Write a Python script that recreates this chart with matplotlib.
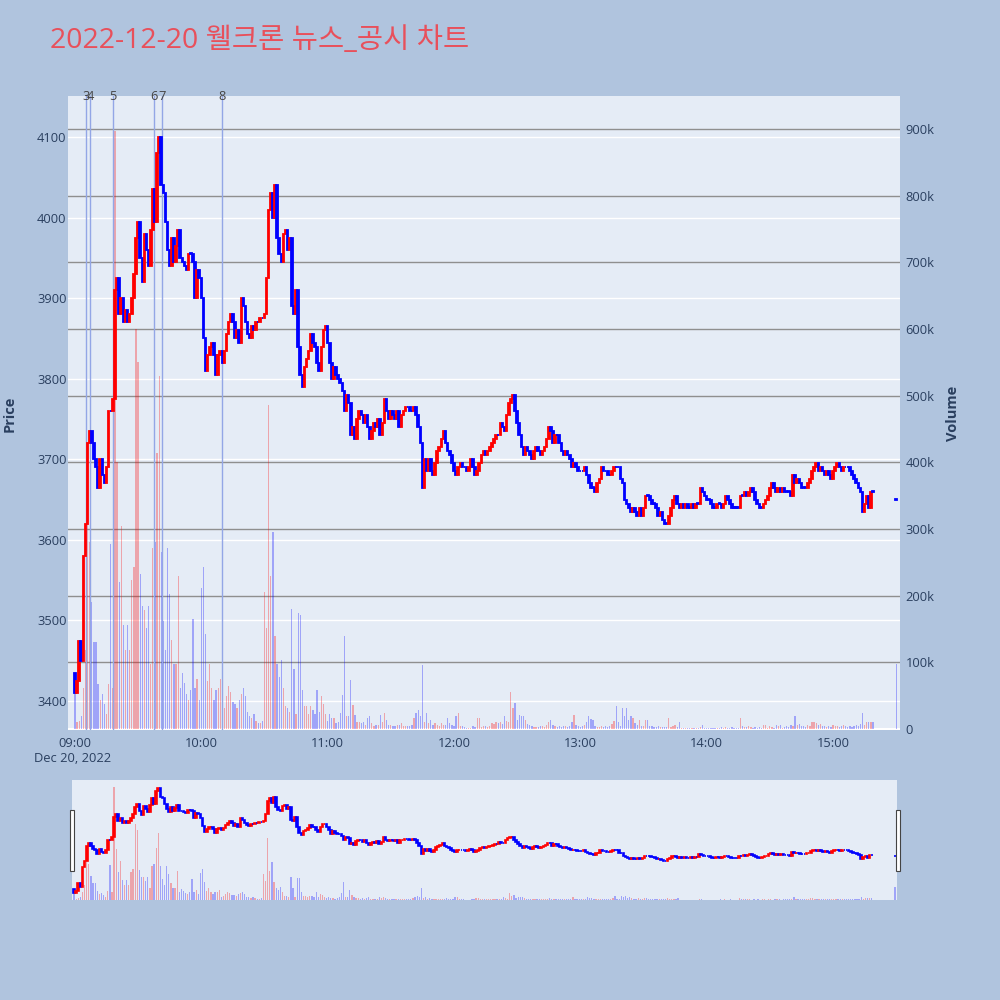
import numpy as np
import matplotlib
matplotlib.use('Agg')
import matplotlib.pyplot as plt
from matplotlib import transforms
from matplotlib.patches import Rectangle

plt.rcParams['font.family'] = ['Open Sans', 'Noto Sans CJK KR', 'DejaVu Sans']

title = '2022-12-20 웰크론 뉴스_공시 차트'

# 1-minute closes from 09:00 to 15:19, then the 15:30 closing auction
first_open = 3435
close = [
    3410, 3425, 3475, 3450, 3580, 3620, 3720, 3735, 3720, 3700,
    3690, 3665, 3700, 3680, 3670, 3690, 3760, 3760, 3775, 3910,
    3925, 3880, 3900, 3870, 3885, 3870, 3880, 3900, 3930, 3975,
    3995, 3950, 3920, 3980, 3960, 3940, 3985, 4035, 3995, 4080,
    4100, 4040, 4030, 3995, 3960, 3940, 3975, 3945, 3965, 3985,
    3950, 3945, 3940, 3935, 3955, 3955, 3945, 3900, 3935, 3925,
    3900, 3850, 3810, 3830, 3840, 3845, 3830, 3805, 3830, 3835,
    3820, 3835, 3855, 3870, 3880, 3870, 3850, 3860, 3845, 3900,
    3890, 3870, 3855, 3850, 3865, 3860, 3870, 3870, 3875, 3875,
    3880, 3925, 4010, 4030, 4000, 4040, 3975, 3955, 3945, 3980,
    3985, 3960, 3975, 3890, 3880, 3910, 3840, 3805, 3790, 3815,
    3825, 3835, 3855, 3845, 3840, 3820, 3810, 3840, 3860, 3865,
    3845, 3820, 3800, 3815, 3805, 3800, 3795, 3785, 3760, 3780,
    3770, 3730, 3740, 3725, 3750, 3760, 3755, 3745, 3755, 3740,
    3725, 3735, 3745, 3740, 3750, 3730, 3745, 3775, 3760, 3750,
    3760, 3755, 3750, 3760, 3740, 3755, 3760, 3765, 3765, 3760,
    3760, 3765, 3755, 3740, 3720, 3665, 3700, 3685, 3700, 3685,
    3680, 3695, 3710, 3715, 3725, 3735, 3720, 3710, 3705, 3695,
    3685, 3680, 3690, 3695, 3690, 3690, 3685, 3690, 3700, 3690,
    3680, 3685, 3695, 3705, 3710, 3705, 3710, 3715, 3720, 3725,
    3730, 3730, 3745, 3740, 3735, 3755, 3770, 3775, 3780, 3760,
    3745, 3730, 3715, 3705, 3715, 3710, 3705, 3700, 3710, 3715,
    3710, 3705, 3710, 3715, 3725, 3740, 3735, 3720, 3730, 3730,
    3720, 3710, 3705, 3710, 3705, 3700, 3690, 3695, 3690, 3685,
    3685, 3685, 3690, 3680, 3670, 3665, 3665, 3660, 3670, 3675,
    3690, 3685, 3685, 3680, 3680, 3685, 3690, 3690, 3690, 3675,
    3670, 3650, 3645, 3640, 3635, 3640, 3635, 3630, 3640, 3630,
    3640, 3655, 3655, 3650, 3645, 3645, 3640, 3630, 3635, 3625,
    3620, 3620, 3630, 3640, 3650, 3655, 3645, 3640, 3645, 3640,
    3645, 3640, 3640, 3645, 3640, 3645, 3645, 3665, 3660, 3655,
    3650, 3650, 3645, 3640, 3640, 3645, 3645, 3640, 3645, 3655,
    3650, 3645, 3640, 3640, 3640, 3640, 3655, 3655, 3660, 3655,
    3660, 3665, 3660, 3650, 3645, 3640, 3640, 3645, 3650, 3655,
    3665, 3670, 3665, 3660, 3665, 3660, 3665, 3660, 3660, 3660,
    3655, 3680, 3670, 3675, 3670, 3665, 3665, 3665, 3670, 3675,
    3685, 3690, 3695, 3685, 3690, 3685, 3680, 3685, 3680, 3675,
    3685, 3690, 3695, 3690, 3685, 3690, 3690, 3690, 3685, 3680,
    3675, 3670, 3665, 3660, 3635, 3645, 3655, 3640, 3660, 3660,
]
auction_close = 3650

# volume in thousands of shares
volume_k = [
    60, 10, 12, 20, 62, 118, 308, 280, 190, 130,
    130, 68, 44, 53, 37, 22, 68, 277, 62, 897,
    400, 221, 305, 156, 118, 156, 118, 224, 243, 600,
    550, 233, 184, 178, 152, 184, 97, 271, 280, 414,
    530, 265, 162, 118, 271, 202, 134, 97, 97, 230,
    62, 84, 69, 53, 44, 59, 165, 62, 75, 44,
    212, 243, 143, 72, 97, 62, 44, 59, 62, 75,
    22, 31, 50, 65, 56, 40, 37, 31, 44, 53,
    62, 50, 25, 19, 16, 22, 12, 9, 9, 12,
    205, 152, 486, 230, 296, 140, 97, 78, 103, 62,
    34, 31, 25, 180, 90, 22, 174, 171, 59, 34,
    34, 22, 34, 28, 22, 59, 25, 50, 37, 22,
    12, 22, 16, 16, 9, 11, 24, 51, 139, 19,
    19, 74, 36, 21, 11, 11, 9, 11, 6, 16,
    19, 9, 4, 6, 6, 21, 11, 24, 14, 6,
    6, 4, 4, 6, 6, 9, 4, 4, 4, 4,
    6, 16, 24, 29, 19, 96, 11, 24, 9, 14,
    6, 9, 6, 4, 9, 6, 6, 16, 9, 6,
    4, 19, 24, 4, 4, 3, 2, 2, 2, 4,
    3, 16, 16, 3, 5, 4, 3, 5, 9, 8,
    10, 9, 10, 8, 19, 12, 10, 56, 31, 39,
    14, 21, 19, 19, 14, 8, 6, 4, 3, 3,
    3, 4, 5, 3, 6, 10, 14, 6, 4, 3,
    4, 3, 5, 4, 3, 4, 10, 21, 6, 4,
    3, 4, 6, 10, 19, 15, 13, 4, 3, 3,
    4, 3, 5, 3, 4, 8, 12, 34, 10, 4,
    31, 19, 31, 14, 19, 16, 9, 6, 14, 5,
    5, 14, 14, 5, 4, 3, 3, 4, 3, 3,
    3, 3, 16, 3, 5, 6, 3, 11, 2, 2,
    2, 1, 2, 2, 1, 1, 2, 3, 6, 2,
    1, 2, 1, 2, 1, 2, 1, 3, 2, 3,
    2, 2, 3, 2, 1, 2, 16, 4, 3, 3,
    4, 3, 2, 3, 2, 3, 2, 6, 6, 2,
    4, 3, 2, 6, 4, 6, 2, 3, 5, 3,
    6, 4, 19, 6, 8, 4, 5, 3, 6, 5,
    11, 11, 9, 6, 8, 4, 5, 3, 4, 3,
    6, 4, 5, 3, 4, 6, 4, 3, 5, 3,
    4, 6, 5, 8, 24, 6, 11, 11, 11, 11,
]
auction_vol_k = 98

# news markers (minutes after 09:00)
news_min = [5.2, 7.1, 18.0, 37.5, 41.3, 69.8]
news_lab = ['3', '4', '5', '6', '7', '8']

hour_ticks = [0, 60, 120, 180, 240, 300, 360]
hour_labels = ['09:00', '10:00', '11:00', '12:00', '13:00', '14:00', '15:00']
price_ticks = [3400, 3500, 3600, 3700, 3800, 3900, 4000, 4100]
vol_ticks = [0, 100, 200, 300, 400, 500, 600, 700, 800, 900]

# assemble candles
minutes = np.append(np.arange(len(close)), 390)
c = np.array(close + [auction_close], dtype=float)
o = np.append([first_open], c[:-1])
o[-1] = auction_close
vol = np.array(volume_k + [auction_vol_k]) * 1000.0
up = c > o
cand_col = np.where(up, '#ff0000', '#0000ff')
vol_col = [(1, 0, 0, 0.3) if u else (0, 0, 1, 0.3) for u in up]

TXT = '#2a3f5f'
BG = '#e5ecf6'
FS = 9.3
XLIM = (-3.3, 391.8)
PLIM = (3364, 4151)
VLIM = (-1500, 949500)


def draw(ax_v, ax_p, bar_w, lw, vw):
    ax_v.bar(minutes, vol, width=vw, color=vol_col, linewidth=0, zorder=1)
    ax_p.bar(minutes, np.maximum(np.abs(c - o), 0.5), bottom=np.minimum(o, c),
             width=bar_w, color=cand_col, edgecolor=cand_col, linewidth=lw, zorder=3)
    ax_v.set_xlim(*XLIM)
    ax_v.set_ylim(*VLIM)
    ax_p.set_ylim(*PLIM)


fig = plt.figure(figsize=(10, 10), dpi=100)
fig.patch.set_facecolor('#b0c4de')

ax_v = fig.add_axes([0.068, 0.27, 0.832, 0.634])
ax_v.set_facecolor(BG)
ax_p = ax_v.twinx()

# grid: price (white) and volume (gray), drawn under the bars
blend_p = transforms.blended_transform_factory(ax_v.transAxes, ax_p.transData)
for p in price_ticks:
    ax_v.plot([0, 1], [p, p], transform=blend_p, color='white', lw=1.0, zorder=0.5)
for v in vol_ticks[1:]:
    ax_v.axhline(v * 1000, color='#8f8f8f', lw=1.0, zorder=0.6)
ax_v.axhline(0, color='white', lw=1.5, zorder=0.6)

draw(ax_v, ax_p, 0.75, 1.3, 0.6)

blend_x = transforms.blended_transform_factory(ax_v.transData, ax_v.transAxes)
for m, lab in zip(news_min, news_lab):
    ax_v.axvline(m, color='#93a6e6', lw=1.0, zorder=1.5)
    ax_v.text(m, 1.0, lab, transform=blend_x, ha='center', va='center',
              fontsize=FS, color='#444444')

for a in (ax_v, ax_p):
    for s in a.spines.values():
        s.set_visible(False)

ax_p.yaxis.tick_left()
ax_p.yaxis.set_label_position('left')
ax_v.yaxis.tick_right()
ax_v.yaxis.set_label_position('right')
ax_p.set_yticks(price_ticks)
ax_p.set_yticklabels([str(p) for p in price_ticks])
ax_v.set_yticks([v * 1000 for v in vol_ticks])
ax_v.set_yticklabels(['0'] + ['%dk' % v for v in vol_ticks[1:]])
ax_v.set_xticks(hour_ticks)
ax_v.set_xticklabels(hour_labels)
ax_p.tick_params(axis='y', length=0, pad=1, labelsize=FS, labelcolor=TXT)
ax_v.tick_params(axis='y', length=0, pad=4, labelsize=FS, labelcolor=TXT)
ax_v.tick_params(axis='x', length=0, pad=5, labelsize=FS, labelcolor=TXT)

fig.text(0.073, 1 - 0.758, 'Dec 20, 2022', ha='center', va='center', fontsize=FS, color=TXT)
fig.text(0.010, 1 - 0.414, 'Price', rotation=90, ha='center', va='center',
         fontsize=10.5, fontweight='bold', color=TXT)
fig.text(0.953, 1 - 0.413, 'Volume', rotation=90, ha='center', va='center',
         fontsize=10.5, fontweight='bold', color=TXT)
fig.text(0.05, 1 - 0.041, title, ha='left', va='center', fontsize=20.5, color='#e8505b')

# range slider
ax_sv = fig.add_axes([0.072, 0.100, 0.825, 0.120])
ax_sv.set_facecolor(BG)
ax_sp = ax_sv.twinx()
draw(ax_sv, ax_sp, 0.8, 1.2, 0.6)
ax_sv.set_xlim(-1, 391)
for a in (ax_sv, ax_sp):
    a.set_xticks([])
    a.set_yticks([])
    for s in a.spines.values():
        s.set_visible(False)

for hx in (0.0695, 0.8955):
    fig.patches.append(Rectangle((hx, 1 - 0.871), 0.0045, 0.061, transform=fig.transFigure,
                                 facecolor='white', edgecolor='#444444', lw=0.8))

fig.savefig('out.png', dpi=100, facecolor=fig.get_facecolor())
